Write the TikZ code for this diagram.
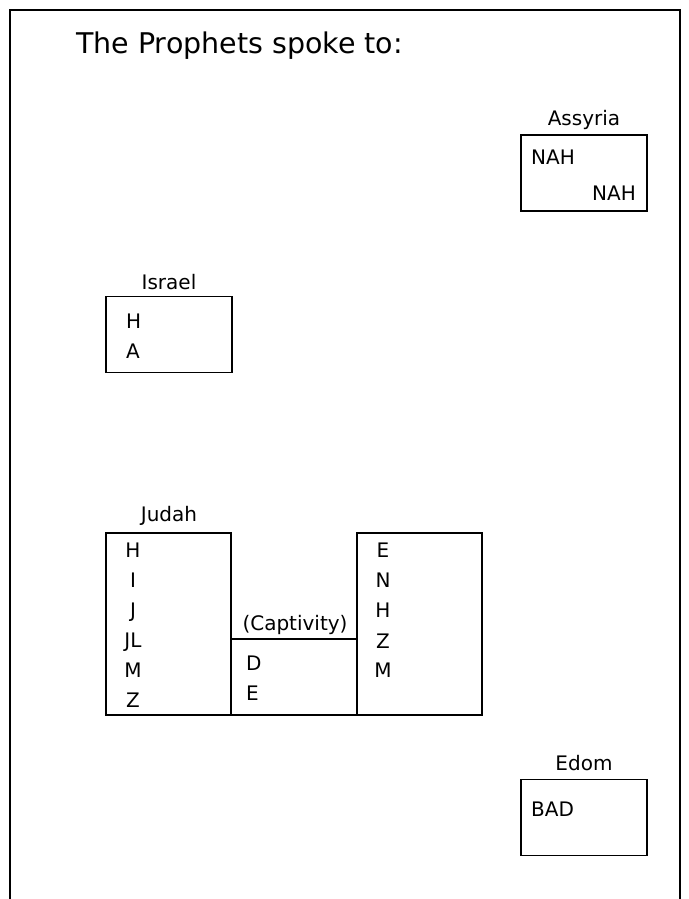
\documentclass[tikz,border=0pt]{standalone}
\usepackage{fontspec}
\setmainfont{DejaVu Sans}
\tikzset{
  region/.style={draw, line width=1.6pt, minimum width=126pt, minimum height=76pt, inner sep=0pt},
  tallregion/.style={region, minimum width=125pt, minimum height=182pt},
  lbl/.style={font=\fontsize{20}{24}\selectfont, inner sep=0pt, anchor=base},
}
\begin{document}
\begin{tikzpicture}[x=1pt,y=-1pt]
  \useasboundingbox (0,0) rectangle (688,899);
  \draw[line width=1.8pt] (10,899) -- (10,10) -- (680,10) -- (680,899);
  \node[lbl, anchor=base west, font=\fontsize{28.5}{34}\selectfont] (title) at (76,53) {The Prophets spoke to:};

  % Assyria
  \node[region] (assyria) at (584,173) {};
  \node[lbl] (assyrialbl) at (584,125) {Assyria};
  \node[lbl, anchor=base west] (nah1) at (531,164) {NAH};
  \node[lbl, anchor=base east] (nah2) at (636,200) {NAH};

  % Israel
  \node[region] (israel) at (169,334.5) {};
  \node[lbl] (israellbl) at (169,289) {Israel};
  \node[lbl, anchor=base west] (isr1) at (126,328) {H};
  \node[lbl, anchor=base west] (isr2) at (126,358) {A};

  % Judah
  \node[tallregion] (judah) at (168.5,624) {};
  \node[lbl] (judahlbl) at (169,521.5) {Judah};
  \node[lbl] (jud1) at (133,557) {H};
  \node[lbl] (jud2) at (133,587) {I};
  \node[lbl] (jud3) at (133,617) {J};
  \node[lbl] (jud4) at (133,647.5) {JL};
  \node[lbl] (jud5) at (133,677) {M};
  \node[lbl] (jud6) at (133,707) {Z};

  % Captivity
  \node[region] (captivity) at (294,677) {};
  \node[lbl] (captivitylbl) at (295,630) {(Captivity)};
  \node[lbl, anchor=base west] (cap1) at (246,670) {D};
  \node[lbl, anchor=base west] (cap2) at (246,700) {E};

  % after the captivity
  \node[tallregion] (after) at (419.5,624) {};
  \node[lbl] (aft1) at (383,557) {E};
  \node[lbl] (aft2) at (383,587) {N};
  \node[lbl] (aft3) at (383,617) {H};
  \node[lbl] (aft4) at (383,648) {Z};
  \node[lbl] (aft5) at (383,677) {M};

  % Edom
  \node[region] (edom) at (584,817.5) {};
  \node[lbl] (edomlbl) at (584,770) {Edom};
  \node[lbl, anchor=base west] (bad) at (531,816) {BAD};
\end{tikzpicture}
\end{document}
